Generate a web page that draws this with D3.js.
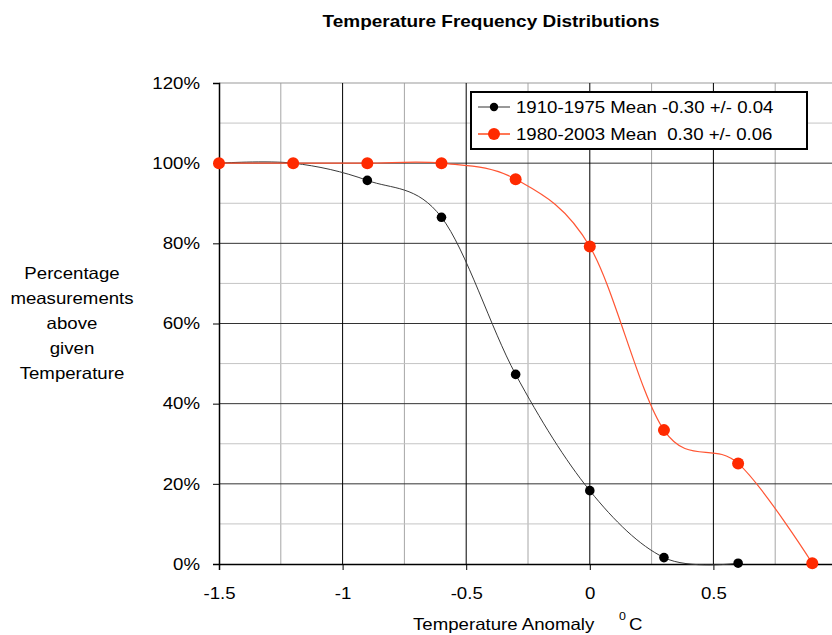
<!DOCTYPE html>
<html>
<head>
<meta charset="utf-8">
<script src="https://cdn.jsdelivr.net/npm/d3@7"></script>
<style>
  body { margin: 0; background: #fff; }
  svg { display: block; font-family: "Liberation Sans", Arial, sans-serif; }
</style>
</head>
<body>
<svg id="chart" width="832" height="635"></svg>
<script>
// data
const temps = [-1.5, -1.2, -0.9, -0.6, -0.3, 0, 0.3, 0.6, 0.9]
const early = [100, 100, 95.7, 86.5, 47.3, 18.3, 1.6, 0.2]        // 1910-1975
const late = [100, 100, 100, 100, 96, 79.2, 33.4, 25.1, 0.2]      // 1980-2003
const xTicks = [-1.5, -1, -0.5, 0, 0.5, 1]
const yTicks = [0, 20, 40, 60, 80, 100, 120]
const seriesNames = ['1910-1975 Mean -0.30 +/- 0.04', '1980-2003 Mean  0.30 +/- 0.06']

const svg = d3.select('#chart')
const plotL = 219, plotR = 837, plotT = 83, plotB = 564
const fs = 16.5, sx = 1.13   // the original text is a bit wider than Arial

const x = d3.scaleLinear().domain([-1.5, 1]).range([plotL, plotR])
const y = d3.scaleLinear().domain([0, 120]).range([plotB, plotT])

// text placed with a slight horizontal stretch
function label (parent, tx, ty, str, anchor) {
  return parent.append('text')
    .attr('transform', `translate(${tx},${ty}) scale(${sx},1)`)
    .attr('text-anchor', anchor || 'start')
    .attr('font-size', fs)
    .attr('xml:space', 'preserve').style('white-space', 'pre')
    .text(str)
}

// title
label(svg, 491, 27, 'Temperature Frequency Distributions', 'middle')
  .attr('font-size', 16.8).attr('font-weight', 'bold')

// grid
const grid = svg.append('g')
d3.range(-1.25, 1, 0.5).forEach(v => {
  grid.append('line')
    .attr('x1', x(v)).attr('x2', x(v)).attr('y1', plotT).attr('y2', plotB)
    .attr('stroke', '#a6a6a6').attr('stroke-width', 1)
})
d3.range(10, 120, 20).forEach(v => {
  grid.append('line')
    .attr('x1', plotL).attr('x2', plotR).attr('y1', y(v)).attr('y2', y(v))
    .attr('stroke', '#c4c4c4').attr('stroke-width', 1)
})
yTicks.slice(1).forEach(v => {
  grid.append('line')
    .attr('x1', plotL).attr('x2', plotR).attr('y1', y(v)).attr('y2', y(v))
    .attr('stroke', v === 120 ? '#999' : '#333').attr('stroke-width', 1)
})
xTicks.slice(1).forEach(v => {
  grid.append('line')
    .attr('x1', x(v)).attr('x2', x(v)).attr('y1', plotT).attr('y2', plotB)
    .attr('stroke', '#000').attr('stroke-width', 1)
})

// axes
const axisY = d3.axisLeft(y).tickValues(yTicks).tickSize(6).tickPadding(13)
  .tickFormat(d => d + '%')
const gy = svg.append('g').attr('transform', `translate(${plotL},0)`).call(axisY)
gy.select('.domain').attr('stroke', '#000').attr('stroke-width', 1.5)
gy.selectAll('.tick line').attr('stroke', '#000')
gy.selectAll('text')
  .attr('font-size', fs).attr('font-family', 'Liberation Sans, Arial, sans-serif').attr('fill', '#000')
  .attr('x', 0).attr('transform', `translate(-19,0) scale(${sx},1)`)

const axisX = d3.axisBottom(x).tickValues(xTicks).tickSize(6).tickPadding(17)
  .tickFormat(d => d === 1 ? '' : d)
const gx = svg.append('g').attr('transform', `translate(0,${plotB})`).call(axisX)
gx.select('.domain').attr('stroke', '#000').attr('stroke-width', 1.5)
gx.selectAll('.tick line').attr('stroke', '#000')
gx.selectAll('text')
  .attr('font-size', fs).attr('font-family', 'Liberation Sans, Arial, sans-serif').attr('fill', '#000')
  .attr('transform', `scale(${sx},1)`)

// axis titles
const yTitle = ['Percentage', 'measurements', 'above', 'given', 'Temperature']
const yt = svg.append('g')
yTitle.forEach((s, i) => label(yt, 72, 279 + i * 25, s, 'middle'))

label(svg, 413, 630, 'Temperature Anomaly')
label(svg, 619, 620, '0').attr('font-size', 11)
label(svg, 629, 630, 'C')

// series
const line = d3.line()
  .x((d, i) => x(temps[i]))
  .y(d => y(d))
  .curve(d3.curveCardinal.tension(0))

svg.append('path')
  .attr('d', line(early))
  .attr('fill', 'none').attr('stroke', '#3a3a3a').attr('stroke-width', 1)
svg.append('path')
  .attr('d', line(late))
  .attr('fill', 'none').attr('stroke', '#ff5533').attr('stroke-width', 1.2)

svg.append('g').selectAll('circle').data(early).join('circle')
  .attr('cx', (d, i) => x(temps[i])).attr('cy', d => y(d))
  .attr('r', 4.8).attr('fill', '#000')
svg.append('g').selectAll('circle').data(late).join('circle')
  .attr('cx', (d, i) => x(temps[i])).attr('cy', d => y(d))
  .attr('r', 6).attr('fill', '#ff2a00')

// legend
const lg = svg.append('g')
lg.append('rect')
  .attr('x', 471).attr('y', 92).attr('width', 336).attr('height', 57)
  .attr('fill', '#fff').attr('stroke', '#000').attr('stroke-width', 2)
const rows = [
  {name: seriesNames[0], stroke: '#333', fill: '#000', r: 4.2},
  {name: seriesNames[1], stroke: '#ff7755', fill: '#ff2a00', r: 6}
]
rows.forEach((row, i) => {
  const cy = 107 + i * 27
  lg.append('line').attr('x1', 478).attr('x2', 510).attr('y1', cy).attr('y2', cy)
    .attr('stroke', row.stroke).attr('stroke-width', i ? 2 : 1)
  lg.append('circle').attr('cx', 494).attr('cy', cy).attr('r', row.r).attr('fill', row.fill)
  label(lg, 516, cy + 6, row.name)
})
</script>
</body>
</html>
